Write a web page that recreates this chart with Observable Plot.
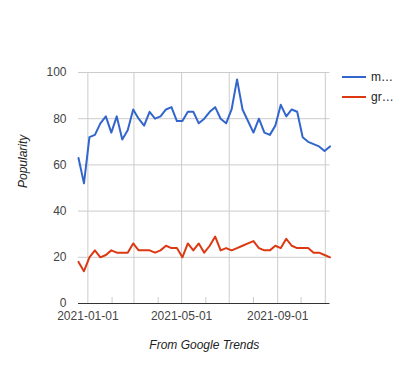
<!DOCTYPE html>
<html>
<head>
<meta charset="utf-8">
<script src="https://cdn.jsdelivr.net/npm/d3@7"></script>
<script src="https://cdn.jsdelivr.net/npm/@observablehq/plot@0.6"></script>
<style>
  html, body { margin: 0; padding: 0; background: #fff; }
  #wrap { position: relative; width: 407px; height: 375px; font-family: "Liberation Sans", Arial, sans-serif; }
  .leg { position: absolute; left: 342px; width: 60px; height: 14px; font-size: 12px; color: #222; }
  .leg .sw { position: absolute; left: 0; top: 6px; width: 24px; height: 2px; }
  .leg .lb { position: absolute; left: 29px; top: 0; line-height: 14px; }
</style>
</head>
<body>
<div id="wrap"></div>
<script>
// Weekly observation dates (Sundays), 2020-12-20 .. 2021-11-07
const weeks = d3.utcSunday.range(new Date("2020-12-20"), new Date("2021-11-08"));
const seriesNames = ["m…", "gr…"];
const seriesColors = ["#3366cc", "#dc3912"];
const mValues = [63,52,72,73,78,81,74,81,71,75,84,80,77,83,80,81,84,85,79,79,83,83,78,80,
                 83,85,80,78,84,97,84,79,74,80,74,73,77,86,81,84,83,72,70,69,68,66,68];
const grValues = [18,14,20,23,20,21,23,22,22,22,26,23,23,23,22,23,25,24,24,20,26,23,26,22,
                  25,29,23,24,23,24,25,26,27,24,23,23,25,24,28,25,24,24,24,22,22,21,20];
const yTicks = [0, 20, 40, 60, 80, 100];
const gridMonths = ["2021-01-01","2021-03-01","2021-05-01","2021-07-01","2021-09-01","2021-11-01"].map(d => new Date(d));
const minorMonths = ["2021-02-01","2021-04-01","2021-06-01","2021-08-01","2021-10-01"].map(d => new Date(d));
const labelMonths = ["2021-01-01","2021-05-01","2021-09-01"].map(d => new Date(d));
const yTitle = "Popularity";
const xTitle = "From Google Trends";

const data = [];
weeks.forEach((d, i) => {
  data.push({date: d, value: mValues[i], series: seriesNames[0]});
  data.push({date: d, value: grValues[i], series: seriesNames[1]});
});

const chart = Plot.plot({
  width: 407,
  height: 375,
  marginLeft: 78,
  marginRight: 77.5,
  marginTop: 72,
  marginBottom: 72,
  style: {fontFamily: "'Liberation Sans', Arial, sans-serif", fontSize: "12px", color: "#444", background: "#fff"},
  x: {type: "utc", domain: [weeks[0], weeks[weeks.length - 1]]},
  y: {domain: [0, 100]},
  color: {domain: seriesNames, range: seriesColors},
  marks: [
    Plot.gridY(yTicks.filter(t => t > 0), {stroke: "#cccccc", strokeOpacity: 1}),
    Plot.gridX(gridMonths, {stroke: "#cccccc", strokeOpacity: 1}),
    Plot.ruleX(minorMonths, {stroke: "#cccccc", strokeOpacity: 1, insetTop: 225}),
    Plot.axisY(yTicks, {tickSize: 0, tickPadding: 12, label: null, fill: "#444"}),
    Plot.axisX(labelMonths, {tickSize: 0, tickPadding: 8, label: null, tickFormat: d3.utcFormat("%Y-%m-%d"), fill: "#444"}),
    Plot.line(data, {x: "date", y: "value", z: "series", stroke: "series", strokeWidth: 2}),
    Plot.ruleY([0], {stroke: "#333", strokeWidth: 1}),
    Plot.text([yTitle], {frameAnchor: "left", dx: -55, rotate: -90, fontStyle: "italic", fill: "#222", fontSize: 12}),
    Plot.text([xTitle], {frameAnchor: "bottom", dy: 45, fontStyle: "italic", fill: "#222", fontSize: 12})
  ]
});

const wrap = document.getElementById("wrap");
wrap.appendChild(chart);
seriesNames.forEach((name, i) => {
  const row = document.createElement("div");
  row.className = "leg";
  row.style.top = (70 + i * 20) + "px";
  row.innerHTML = `<div class="sw" style="background:${seriesColors[i]}"></div><div class="lb">${name}</div>`;
  wrap.appendChild(row);
});
</script>
</body>
</html>
